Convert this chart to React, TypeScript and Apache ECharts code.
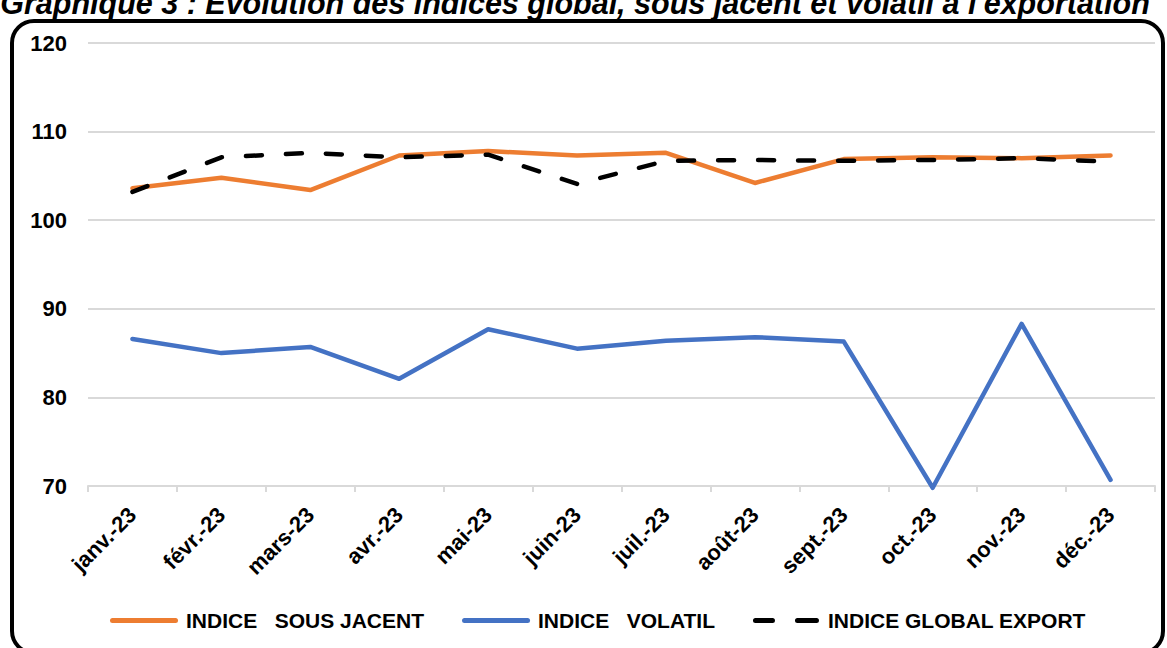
import React, { useEffect, useRef } from "react";
import * as echarts from "echarts";

const categories = [
  "janv.-23", "févr.-23", "mars-23", "avr.-23", "mai-23", "juin-23",
  "juil.-23", "août-23", "sept.-23", "oct.-23", "nov.-23", "déc.-23",
];
const sousJacent = [103.6, 104.8, 103.4, 107.3, 107.8, 107.3, 107.6, 104.2, 106.9, 107.1, 107.0, 107.3];
const volatil = [86.6, 85.0, 85.7, 82.1, 87.7, 85.5, 86.4, 86.8, 86.3, 69.8, 88.3, 70.7];
const globalExport = [103.2, 107.1, 107.6, 107.1, 107.4, 104.1, 106.7, 106.8, 106.7, 106.8, 107.0, 106.6];
const seriesNames = ["INDICE   SOUS JACENT", "INDICE   VOLATIL", "INDICE GLOBAL EXPORT"];
const titleText = "Graphique 3 : Evolution des indices global, sous jacent et volatil à l'exportation";

export default function App() {
  const ref = useRef<HTMLDivElement>(null);
  useEffect(() => {
    document.body.style.margin = "0";
    const chart = echarts.init(ref.current!, null, { renderer: "svg" });
    const font = "'Liberation Sans', Arial, sans-serif";
    const solidIcon = "path://M2.5,0 H65.5 A2.5,2.5 0 0 1 65.5,5 H2.5 A2.5,2.5 0 0 1 2.5,0 Z";
    const dashIcon =
      "path://M2.5,0 H19.5 A2.5,2.5 0 0 1 19.5,5 H2.5 A2.5,2.5 0 0 1 2.5,0 Z M44.5,0 H63.5 A2.5,2.5 0 0 1 63.5,5 H44.5 A2.5,2.5 0 0 1 44.5,0 Z";
    chart.setOption({
      animation: false,
      backgroundColor: "#ffffff",
      textStyle: { fontFamily: font },
      graphic: [
        {
          type: "rect",
          shape: { x: 12, y: 21, width: 1151, height: 632, r: 22 },
          style: { fill: "none", stroke: "#000", lineWidth: 4 },
          silent: true,
          z: 0,
        },
        {
          type: "text",
          x: 575,
          y: 18,
          style: {
            text: titleText,
            fontFamily: font,
            fontSize: 30.5,
            fontWeight: "bold",
            fontStyle: "italic",
            fill: "#000",
            align: "center",
            verticalAlign: "bottom",
          },
          z: 10,
        },
      ],
      grid: { left: 88, right: 12, top: 43, bottom: 162, containLabel: false },
      legend: {
        left: 105,
        top: 605,
        itemWidth: 68,
        itemHeight: 5,
        itemGap: 38,
        textStyle: { fontFamily: font, fontSize: 21, fontWeight: "bold", color: "#000", padding: [0, 0, 0, 3] },
        data: [
          { name: seriesNames[0], icon: solidIcon },
          { name: seriesNames[1], icon: solidIcon },
          { name: seriesNames[2], icon: dashIcon },
        ],
      },
      xAxis: {
        type: "category",
        data: categories,
        boundaryGap: true,
        axisLine: { lineStyle: { color: "#d9d9d9", width: 2 } },
        axisTick: { show: true, length: 6, lineStyle: { color: "#d9d9d9", width: 2 } },
        axisLabel: {
          interval: 0,
          rotate: 45,
          margin: 25,
          fontFamily: font,
          fontSize: 22,
          fontWeight: "bold",
          color: "#000",
        },
      },
      yAxis: {
        type: "value",
        min: 70,
        max: 120,
        interval: 10,
        axisLine: { show: false },
        axisTick: { show: false },
        splitLine: { lineStyle: { color: "#d9d9d9", width: 2 } },
        axisLabel: { margin: 21, fontFamily: font, fontSize: 22, fontWeight: "bold", color: "#000" },
      },
      series: [
        {
          name: seriesNames[0],
          type: "line",
          data: sousJacent,
          symbol: "none",
          clip: false,
          lineStyle: { color: "#ED7D31", width: 4.5, cap: "round", join: "round" },
          itemStyle: { color: "#ED7D31" },
        },
        {
          name: seriesNames[1],
          type: "line",
          data: volatil,
          symbol: "none",
          clip: false,
          lineStyle: { color: "#4472C4", width: 4.5, cap: "round", join: "round" },
          itemStyle: { color: "#4472C4" },
        },
        {
          name: seriesNames[2],
          type: "line",
          data: globalExport,
          symbol: "none",
          clip: false,
          lineStyle: { color: "#000000", width: 4.5, type: [16, 24], cap: "round", join: "round" },
          itemStyle: { color: "#000000" },
        },
      ],
    });
    return () => chart.dispose();
  }, []);
  return <div ref={ref} style={{ width: 1167, height: 648 }} />;
}
